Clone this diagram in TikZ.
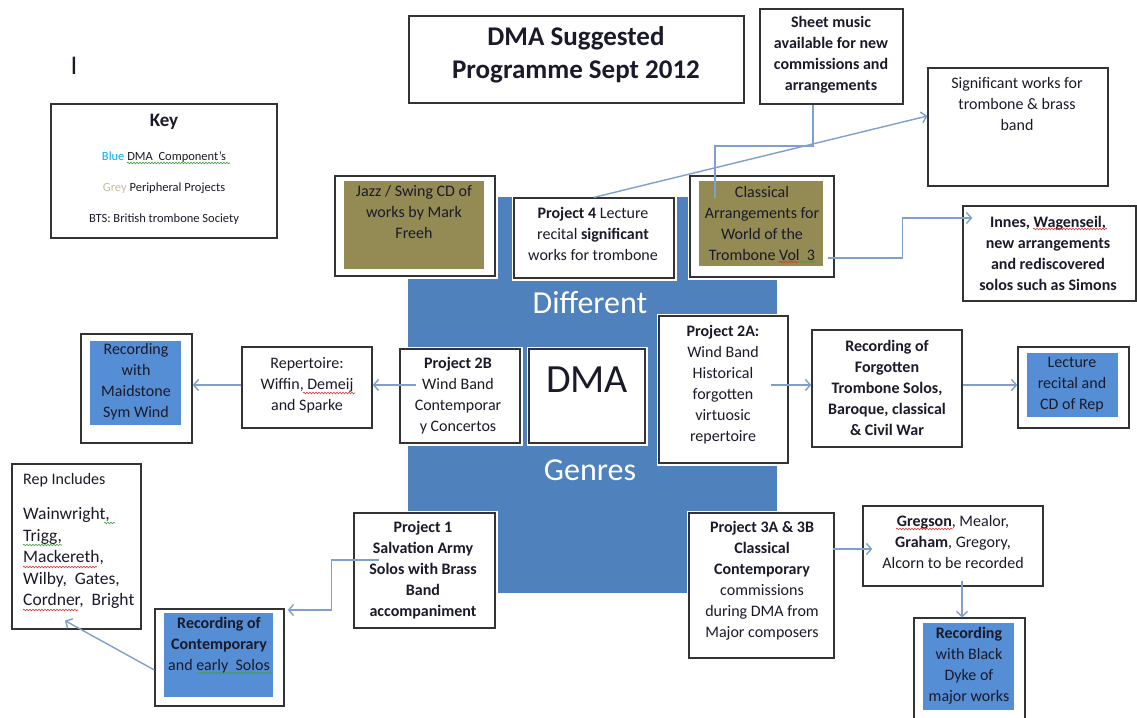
\documentclass[tikz,border=0pt]{standalone}
\usepackage{fontspec}
\setmainfont{Carlito}
\usetikzlibrary{arrows.meta,decorations.pathmorphing}
\definecolor{bigblue}{HTML}{4F81BD}
\definecolor{inblue}{HTML}{558ED5}
\definecolor{olivebox}{HTML}{948A54}
\definecolor{connc}{HTML}{7F9FCF}
\definecolor{keyblue}{HTML}{00B0F0}
\definecolor{keygrey}{HTML}{C4BD97}
\definecolor{txtc}{HTML}{1A1A2A}
\definecolor{spellred}{HTML}{E03030}
\definecolor{spellgreen}{HTML}{40A040}
\begin{document}
\begin{tikzpicture}[x=1pt,y=-1pt,
  box/.style={draw=black!80, line width=1.3pt, fill=white, inner sep=0pt,
    preaction={draw=white, line width=5pt}},
  fillbox/.style={inner sep=0pt, draw=none},
  txt/.style={text=txtc, align=center, inner sep=0pt, font=\fontsize{16}{21}\selectfont},
  btxt/.style={txt, font=\bfseries\fontsize{16}{21}\selectfont},
  bigtxt/.style={text=white, inner sep=0pt, font=\fontsize{32}{36}\selectfont},
  keytxt/.style={txt, font=\fontsize{12.5}{15}\selectfont},
  conn/.style={draw=connc, line width=1.4pt, -{Straight Barb[length=5pt,width=11pt]}},
  plainconn/.style={draw=connc, line width=1.4pt},
  wavyred/.style={draw=spellred, line width=0.6pt, decorate, decoration={snake, amplitude=0.8pt, segment length=3pt}},
  wavygreen/.style={draw=spellgreen, line width=0.6pt, decorate, decoration={snake, amplitude=0.8pt, segment length=3pt}},
]
\useasboundingbox (0,0) rectangle (1137,717);
\fill[white] (0,0) rectangle (1137,717);

% central blue area
\node[fillbox, fill=bigblue, minimum width=369, minimum height=396] (blue) at (592.5,395) {};
\node[bigtxt] (t-diff) at (590,303) {Different};
\node[bigtxt] (t-genres) at (590,470) {Genres};

% title and key
\node[box, minimum width=335, minimum height=87] (title) at (576.5,59.5) {};
\node[txt, font=\bfseries\fontsize{27}{33}\selectfont] (t-title) at (576,55) {DMA Suggested\\Programme Sept 2012};
\node[txt, font=\fontsize{27}{30}\selectfont] (t-i) at (74,66) {I};
\node[box, minimum width=226, minimum height=134] (key) at (164,171) {};
\node[txt, font=\bfseries\fontsize{19}{22}\selectfont] (t-key) at (164,122) {Key};
\node[keytxt] (t-k1) at (164,157) {\textcolor{keyblue}{Blue} DMA\ \ Component’s};
\node[keytxt] (t-k2) at (164,188) {\textcolor{keygrey}{Grey} Peripheral Projects};
\node[keytxt] (t-k3) at (164,219) {BTS: British trombone Society};

% top row
\node[box, minimum width=143, minimum height=95] (sheet) at (831.5,56.5) {};
\node[btxt] (t-sheet) at (831,55) {Sheet music\\available for new\\commissions and\\arrangements};
\node[box, minimum width=180, minimum height=118] (sig) at (1018,127) {};
\node[txt] (t-sig) at (1017,104) {Significant works for\\trombone \& brass\\band};
\node[box, minimum width=160, minimum height=100] (jazz) at (415,226) {};
\node[fillbox, fill=olivebox, minimum width=140, minimum height=88] (jazzin) at (414,225) {};
\node[txt] (t-jazz) at (414,212) {Jazz / Swing CD of\\works by Mark\\Freeh};
\node[box, minimum width=160, minimum height=80] (p4) at (594,238) {};
\node[txt] (t-p4) at (593,234) {\textbf{Project 4} Lecture\\recital \textbf{significant}\\works for trombone};
\node[box, minimum width=144, minimum height=101] (cls) at (762,226.5) {};
\node[fillbox, fill=olivebox, minimum width=124, minimum height=85] (clsin) at (761,223.5) {};
\node[txt] (t-cls) at (762,223) {Classical\\Arrangements for\\World of the\\Trombone Vol\ \ 3};
\node[box, minimum width=173, minimum height=95] (innes) at (1049.5,253.5) {};
\node[btxt] (t-innes) at (1048,253) {Innes, Wagenseil,\\new arrangements\\and rediscovered\\solos such as Simons};

% middle row
\node[box, minimum width=120, minimum height=94] (p2b) at (460,396) {};
\node[txt] (t-p2b) at (458,396) {\textbf{Project 2B}\\Wind Band\\Contemporar\\y Concertos};
\node[box, minimum width=116, minimum height=94] (dma) at (587,396) {};
\node[txt, font=\fontsize{40}{44}\selectfont] (t-dma) at (587,380) {DMA};
\node[box, minimum width=129, minimum height=147] (p2a) at (723.5,389.5) {};
\node[txt] (t-p2a) at (723,385) {\textbf{Project 2A:}\\Wind Band\\Historical\\forgotten\\virtuosic\\repertoire};
\node[box, minimum width=130, minimum height=81] (rep) at (307,387.5) {};
\node[txt] (t-rep) at (307,385) {Repertoire:\\Wiffin, Demeij\\and Sparke};
\node[box, minimum width=111, minimum height=109] (maid) at (136.5,388.5) {};
\node[fillbox, fill=inblue, minimum width=91, minimum height=84] (maidin) at (135.5,383) {};
\node[txt] (t-maid) at (136,382) {Recording\\with\\Maidstone\\Sym Wind};
\node[box, minimum width=150, minimum height=117] (forg) at (887,388.5) {};
\node[btxt] (t-forg) at (887,388) {Recording of\\Forgotten\\Trombone Solos,\\Baroque, classical\\\& Civil War};
\node[box, minimum width=111, minimum height=81] (lect) at (1073.5,387.5) {};
\node[fillbox, fill=inblue, minimum width=91, minimum height=64] (lectin) at (1072.5,385) {};
\node[txt] (t-lect) at (1072,385) {Lecture\\recital and\\CD of Rep};

% bottom row
\node[box, minimum width=129, minimum height=165] (repinc) at (76.5,546.5) {};
\node[txt, anchor=west] (t-repinc) at (23,480) {Rep Includes};
\node[txt, anchor=west, align=left, font=\fontsize{17.5}{21.5}\selectfont] (t-names) at (23,558) {Wainwright,\\Trigg,\\Mackereth,\\Wilby,\ \ Gates,\\Cordner,\ \ Bright};
\node[box, minimum width=129, minimum height=97] (reccon) at (219.5,657.5) {};
\node[fillbox, fill=inblue, minimum width=109, minimum height=84] (reccontin) at (218.5,655) {};
\node[txt] (t-reccon) at (219,645) {\textbf{Recording of}\\\textbf{Contemporary}\\and early\ \ Solos};
\node[box, minimum width=141, minimum height=115] (p1) at (424.5,570.5) {};
\node[btxt] (t-p1) at (423,570) {Project 1\\Salvation Army\\Solos with Brass\\Band\\accompaniment};
\node[box, minimum width=145, minimum height=145] (p3) at (761.5,585.5) {};
\node[txt] (t-p3) at (762,581) {\textbf{Project 3A \& 3B}\\\textbf{Classical}\\\textbf{Contemporary}\\commissions\\during DMA from\\Major composers};
\node[box, minimum width=180, minimum height=80] (greg) at (953,546) {};
\node[txt] (t-greg) at (953,542) {\textbf{Gregson}, Mealor,\\\textbf{Graham}, Gregory,\\Alcorn to be recorded};
\node[box, minimum width=111, minimum height=112] (dyke) at (969.5,674) {};
\node[fillbox, fill=inblue, minimum width=91, minimum height=87] (dykein) at (968.5,666.5) {};
\node[txt] (t-dyke) at (969,666) {\textbf{Recording}\\with Black\\Dyke of\\major works};

% spell-check underlines
\draw[wavygreen] (127,163) -- (230,163);
\draw[wavyred] (303,393) -- (355,393);
\draw[wavyred] (779,262) -- (798,262);
\draw[wavygreen] (799,262) -- (816,262);
\draw[wavyred] (1033,229) -- (1107,229);
\draw[wavygreen] (104,523) -- (115,523);
\draw[wavygreen] (23,545) -- (62,545);
\draw[wavyred] (23,567) -- (97,567);
\draw[wavyred] (23,610) -- (78,610);
\draw[wavygreen] (197,673) -- (272,673);
\draw[wavyred] (896,529) -- (953,529);

% connectors
\draw[conn] (p4.north) -- ([shift={(0,-11)}]sig.west);
\draw[plainconn] ([shift={(-47,-28.5)}]cls.center) -- ++(0,-52) -| ([shift={(-18.5,0)}]sheet.south);
\draw[conn] ([shift={(-7,31.5)}]cls.east) -- ++(75,0) |- ([shift={(10,-35.5)}]innes.west);
\draw[conn] ([shift={(17,-11)}]p2b.west) -- ([shift={(0,-2.5)}]rep.east);
\draw[conn] ([shift={(0,-2.5)}]rep.west) -- ([shift={(0,-3.5)}]maid.east);
\draw[conn] ([shift={(-18,-4.5)}]p2a.east) -- ([shift={(0,-3.5)}]forg.west);
\draw[conn] ([shift={(0,-3.5)}]forg.east) -- ([shift={(0,-2.5)}]lect.west);
\draw[conn] ([shift={(26,-10.5)}]p1.west) -- ++(-48,0) |- ([shift={(3,-47.5)}]reccon.east);
\draw[conn] ([shift={(0,12.5)}]reccon.west) -- ([shift={(-11.5,-9)}]repinc.south);
\draw[conn] ([shift={(-2,-36.5)}]p3.east) -- ([shift={(10,3)}]greg.west);
\draw[conn] ([shift={(9,-6)}]greg.south) -- ([shift={(-7.5,0)}]dyke.north);
\end{tikzpicture}
\end{document}
